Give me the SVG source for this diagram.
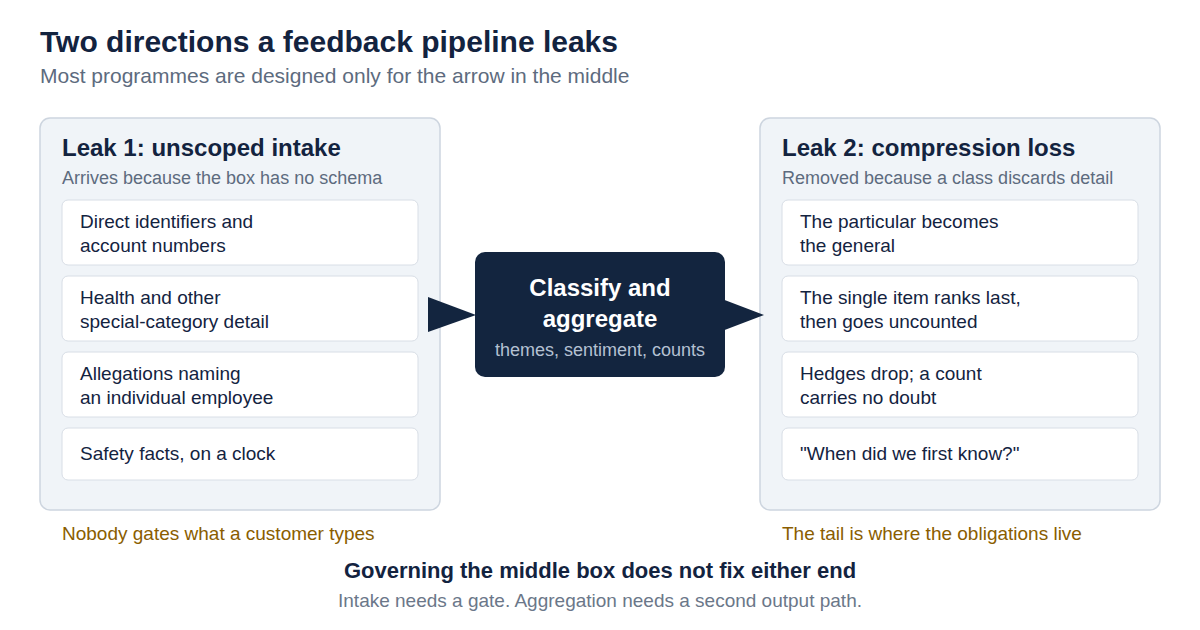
<svg xmlns="http://www.w3.org/2000/svg" width="1200" height="630" viewBox="0 0 1200 630">
<style>
text{font-family:"Liberation Sans",Arial,sans-serif}
.title{font-size:30px;font-weight:bold;fill:#13233f}
.sub{font-size:21px;fill:#5d6b7e}
.panel{fill:#f0f4f8;stroke:#cdd5df;stroke-width:1.5}
.ph{font-size:24px;font-weight:bold;fill:#13233f}
.ps{font-size:18px;fill:#5d6b7e}
.card{fill:#ffffff;stroke:#d8dee6;stroke-width:1}
.ct{font-size:19px;fill:#13233f}
.note{font-size:19px;fill:#8a5d00}
.mid{fill:#13253f}
.mt{font-size:24px;font-weight:bold;fill:#ffffff}
.ms{font-size:18px;fill:#b4c1d2}
.arrow{fill:#13253f}
.foot{font-size:22px;font-weight:bold;fill:#13233f}
.fs{font-size:19px;fill:#6b7789}
</style>
<rect width="1200" height="630" fill="#ffffff"/>
<text class="title" x="40" y="52">Two directions a feedback pipeline leaks</text>
<text class="sub" x="40" y="83">Most programmes are designed only for the arrow in the middle</text>

<g id="leak1">
<rect class="panel" x="40" y="118" width="400" height="392" rx="10"/>
<text class="ph" x="62" y="156">Leak 1: unscoped intake</text>
<text class="ps" x="62" y="184">Arrives because the box has no schema</text>
<g id="leak1-item1"><rect class="card" x="62" y="200" width="356" height="65" rx="6"/>
<text class="ct" x="80" y="228">Direct identifiers and</text><text class="ct" x="80" y="252">account numbers</text></g>
<g id="leak1-item2"><rect class="card" x="62" y="276" width="356" height="65" rx="6"/>
<text class="ct" x="80" y="304">Health and other</text><text class="ct" x="80" y="328">special-category detail</text></g>
<g id="leak1-item3"><rect class="card" x="62" y="352" width="356" height="65" rx="6"/>
<text class="ct" x="80" y="380">Allegations naming</text><text class="ct" x="80" y="404">an individual employee</text></g>
<g id="leak1-item4"><rect class="card" x="62" y="428" width="356" height="52" rx="6"/>
<text class="ct" x="80" y="460">Safety facts, on a clock</text></g>
</g>

<g id="leak2">
<rect class="panel" x="760" y="118" width="400" height="392" rx="10"/>
<text class="ph" x="782" y="156">Leak 2: compression loss</text>
<text class="ps" x="782" y="184">Removed because a class discards detail</text>
<g id="leak2-item1"><rect class="card" x="782" y="200" width="356" height="65" rx="6"/>
<text class="ct" x="800" y="228">The particular becomes</text><text class="ct" x="800" y="252">the general</text></g>
<g id="leak2-item2"><rect class="card" x="782" y="276" width="356" height="65" rx="6"/>
<text class="ct" x="800" y="304">The single item ranks last,</text><text class="ct" x="800" y="328">then goes uncounted</text></g>
<g id="leak2-item3"><rect class="card" x="782" y="352" width="356" height="65" rx="6"/>
<text class="ct" x="800" y="380">Hedges drop; a count</text><text class="ct" x="800" y="404">carries no doubt</text></g>
<g id="leak2-item4"><rect class="card" x="782" y="428" width="356" height="52" rx="6"/>
<text class="ct" x="800" y="460">"When did we first know?"</text></g>
</g>

<g id="connectors">
<polygon class="arrow" points="428,297 476,315 428,332"/>
<polygon class="arrow" points="722,299 764,315 722,331"/>
</g>

<g id="classify">
<rect class="mid" x="475" y="252" width="250" height="125" rx="10"/>
<text class="mt" x="600" y="296" text-anchor="middle">Classify and</text>
<text class="mt" x="600" y="327" text-anchor="middle">aggregate</text>
<text class="ms" x="600" y="356" text-anchor="middle">themes, sentiment, counts</text>
</g>

<text class="note" x="62" y="540">Nobody gates what a customer types</text>
<text class="note" x="782" y="540">The tail is where the obligations live</text>
<text class="foot" x="600" y="578" text-anchor="middle">Governing the middle box does not fix either end</text>
<text class="fs" x="600" y="607" text-anchor="middle">Intake needs a gate. Aggregation needs a second output path.</text>
</svg>
